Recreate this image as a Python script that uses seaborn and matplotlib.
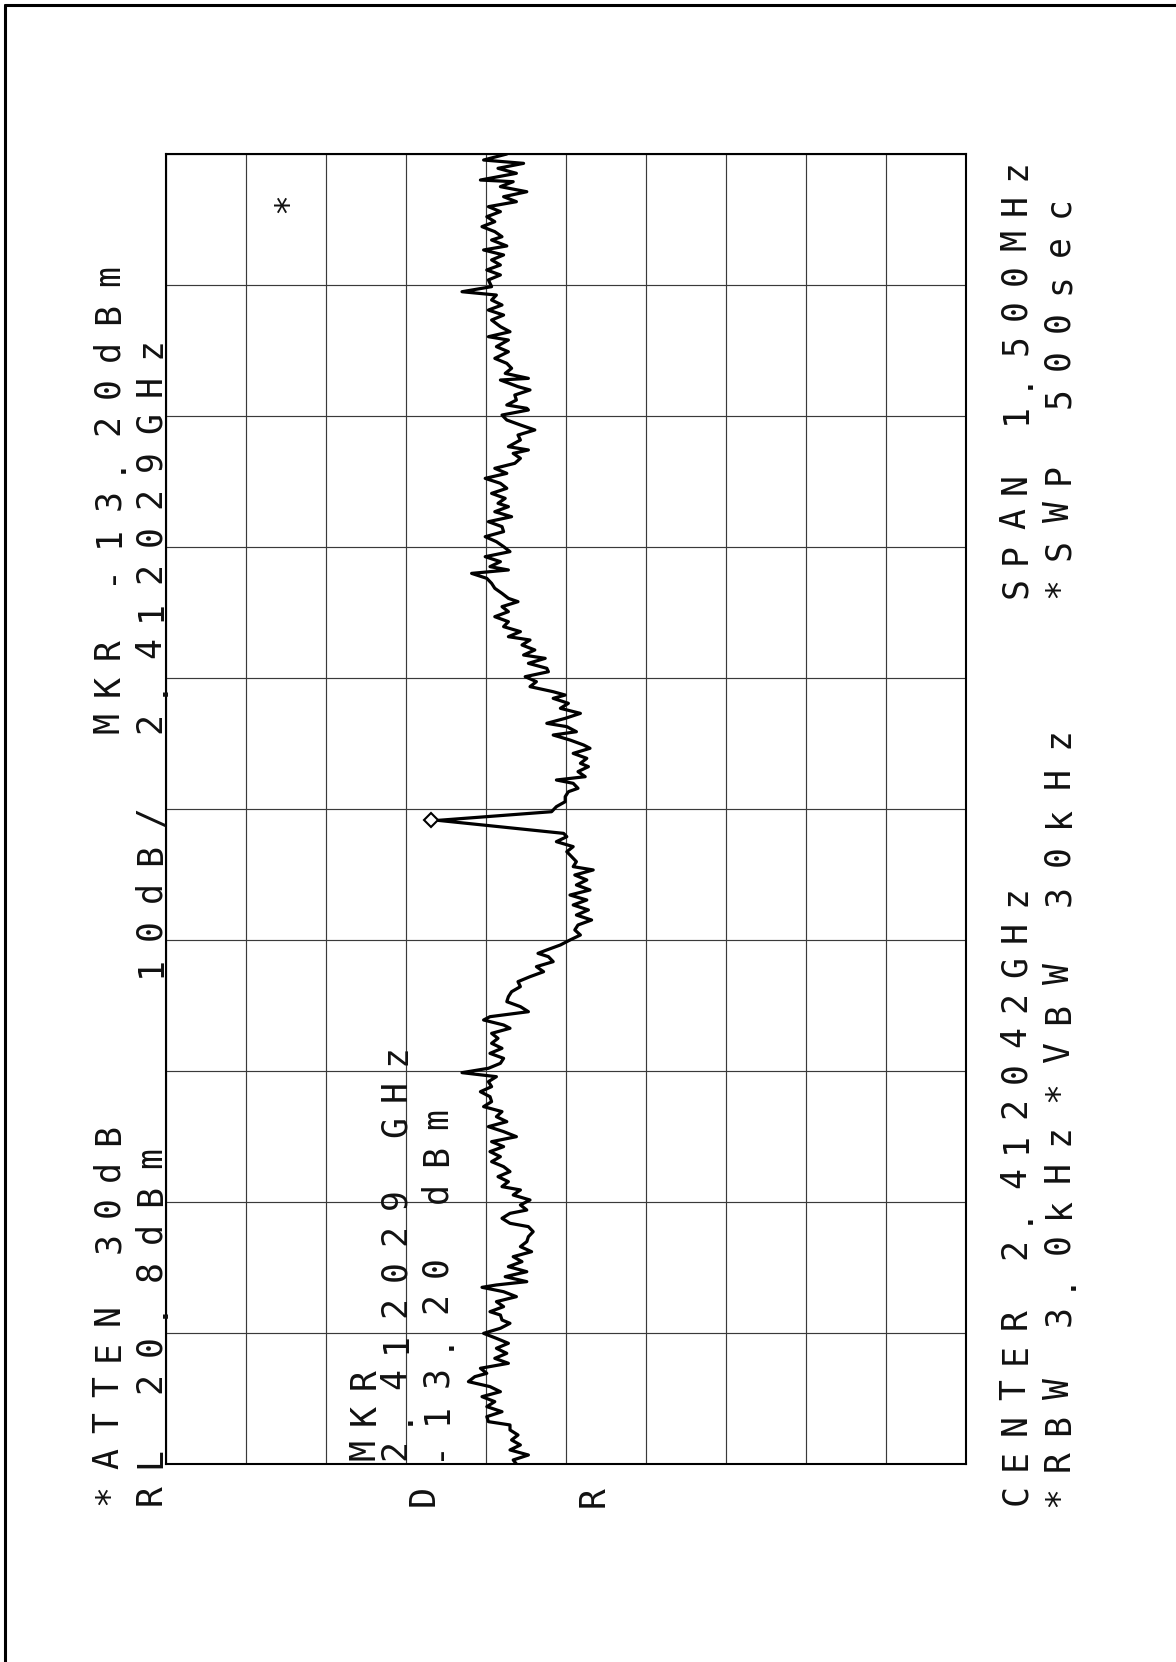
import matplotlib
matplotlib.use("Agg")

import numpy as np
import matplotlib.pyplot as plt
from matplotlib.lines import Line2D
import seaborn as sns

# ======================================================
# SWEEP SETTINGS (as printed on the plot)
# ======================================================

CENTER_GHZ = 2.412042
SPAN_KHZ = 1500
REF_LEVEL_DBM = 20.8
DB_PER_DIV = 10

# ======================================================
# TRACE, read off the plot from the top (high freq) down
# offset from centre in kHz, level in dBm
# ======================================================

freq_khz = [
    750.0, 743.1, 739.3, 733.6, 727.9, 720.2, 718.3, 712.6, 706.8, 701.1,
    695.4, 689.7, 684.0, 678.2, 672.5, 666.8, 661.1, 655.3, 651.5, 644.7,
    640.1, 634.4, 628.7, 622.9, 617.2, 611.5, 605.8, 598.1, 592.3, 588.5,
    582.8, 577.1, 571.3, 565.6, 559.9, 552.3, 546.5, 540.8, 537.0, 529.4,
    523.6, 516.0, 510.3, 504.6, 498.8, 493.1, 491.2, 483.6, 479.8, 474.0,
    468.3, 462.6, 458.8,
    456.9, 451.1, 445.4, 439.7, 434.0, 428.2, 422.5, 414.9, 411.1, 407.2,
    401.5, 395.8, 390.1, 384.3, 378.6, 372.9, 367.2, 361.4, 355.7, 350.0,
    346.2, 340.4, 334.7, 329.0, 323.3, 317.6, 311.8, 306.1, 300.4, 294.7,
    288.9, 283.2, 277.5, 273.7, 269.8, 264.1, 258.4, 252.7, 246.9, 241.2,
    237.4, 231.7, 226.0, 220.2, 214.5, 208.8, 203.1, 197.3, 193.5, 187.8,
    182.1, 176.3, 172.5, 166.8, 161.1,
    157.2, 151.5, 145.8, 140.1, 134.3, 130.5, 126.7, 121.0, 115.3, 109.5,
    103.8, 98.1, 94.3, 88.5, 84.7, 79.0, 73.3, 69.5, 63.7, 58.0,
    52.3, 48.5, 42.8, 37.0, 33.2, 29.4, 23.7, 19.8, 14.1, 8.4,
    2.7, -3.1, -13.0, -27.9, -31.7, -37.4, -43.1, -48.9, -54.6, -60.3,
    -66.0, -69.8, -75.6, -81.3, -87.0, -92.7, -98.5, -104.2, -109.9, -115.6,
    -121.4, -127.1, -132.8,
    -138.5, -144.3, -150.0, -155.7, -161.4, -165.3, -169.1, -174.8, -180.5, -186.3,
    -192.0, -197.7, -203.4, -209.2, -214.9, -220.6, -226.3, -232.1, -237.8, -241.6,
    -247.3, -251.1, -256.9, -262.6, -268.3, -274.0, -279.8, -285.5, -291.2, -296.9,
    -301.9, -306.5, -312.2, -317.9, -323.7, -329.4, -335.1, -340.8, -346.5, -352.3,
    -358.0, -363.7, -369.4, -375.2, -380.9, -386.6, -392.3, -398.1, -403.8, -409.5,
    -415.2, -421.0, -426.7, -432.4,
    -436.2, -442.0, -447.7, -453.4, -459.2, -463.0, -468.7, -474.4, -478.2, -484.0,
    -489.7, -495.4, -501.1, -506.9, -512.6, -518.3, -524.0, -529.8, -535.5, -541.2,
    -545.0, -547.7, -552.7, -558.4, -564.1, -569.8, -575.6, -579.4, -585.1, -588.9,
    -594.6, -600.4, -606.1, -611.8, -617.5, -623.3, -629.0, -634.7, -640.4, -646.2,
    -650.0, -655.7, -661.4, -667.2, -672.9, -678.6, -684.3, -690.1, -695.8, -701.5,
    -705.3, -711.0, -716.8, -722.5, -728.2, -733.9, -739.7, -745.4, -750.0,
]

level_dbm = [
    -21.8, -18.9, -23.9, -20.7, -23.0, -18.5, -22.6, -21.0, -24.3, -21.4,
    -23.0, -19.5, -21.0, -19.3, -20.3, -18.7, -20.3, -21.2, -19.9, -21.8,
    -18.9, -21.4, -19.9, -21.0, -19.3, -21.0, -19.5, -19.9, -16.2, -20.5,
    -19.9, -21.2, -19.5, -21.4, -19.9, -21.0, -22.2, -19.5, -22.0, -20.5,
    -22.0, -20.3, -21.8, -22.4, -21.6, -24.5, -21.0, -23.2, -24.7, -22.8,
    -23.0, -21.8, -24.3,
    -24.5, -21.2, -21.8, -23.5, -25.3, -23.2, -23.5, -22.0, -24.5, -22.6,
    -23.5, -22.8, -20.3, -21.8, -19.1, -21.0, -21.8, -19.9, -21.6, -20.7,
    -22.0, -20.3, -22.4, -19.5, -21.2, -21.4, -19.1, -20.5, -21.4, -22.2,
    -19.1, -21.0, -19.7, -22.0, -17.4, -19.3, -19.9, -20.3, -21.2, -22.0,
    -23.2, -21.2, -22.0, -20.3, -22.0, -21.4, -23.5, -22.0, -24.7, -23.7,
    -25.3, -23.9, -26.6, -24.5, -26.8,
    -27.0, -24.1, -25.5, -24.7, -27.6, -29.1, -27.6, -29.5, -28.5, -31.0,
    -29.1, -26.8, -29.3, -30.5, -27.6, -29.7, -31.4, -32.2, -30.1, -31.8,
    -31.0, -32.0, -30.7, -31.6, -28.0, -30.1, -30.7, -29.5, -29.1, -29.1,
    -28.0, -27.4, -13.2, -28.9, -29.3, -28.0, -30.1, -29.3, -29.9, -30.5,
    -30.1, -32.6, -30.3, -31.8, -30.5, -32.2, -29.7, -31.8, -30.1, -32.0,
    -30.5, -32.4, -30.7,
    -30.3, -31.0, -29.7, -28.5, -26.8, -25.7, -27.0, -27.6, -25.5, -26.4,
    -24.7, -23.2, -23.5, -22.4, -22.0, -21.8, -23.5, -24.5, -19.7, -18.9,
    -21.4, -22.2, -19.9, -20.7, -19.9, -21.2, -19.7, -21.4, -21.0, -19.5,
    -16.2, -20.5, -19.5, -19.9, -18.5, -19.7, -19.9, -18.9, -21.2, -20.5,
    -21.8, -19.5, -21.4, -23.0, -19.9, -21.4, -19.7, -21.0, -19.9, -21.4,
    -22.2, -20.7, -22.0, -21.2,
    -23.5, -22.6, -24.7, -23.5, -24.3, -22.2, -21.2, -22.2, -24.5, -25.1,
    -24.5, -24.3, -23.5, -24.9, -22.6, -23.7, -22.0, -24.3, -21.6, -24.3,
    -20.5, -18.7, -21.4, -23.0, -20.5, -21.4, -19.7, -21.0, -21.2, -22.2,
    -21.0, -18.9, -20.5, -22.0, -20.5, -21.8, -20.3, -22.0, -18.5, -19.3,
    -17.8, -17.0, -19.7, -21.0, -18.7, -20.3, -19.3, -21.2, -19.3, -19.5,
    -22.2, -22.2, -23.2, -22.4, -23.5, -22.2, -24.5, -22.6, -23.0,
]

# marker diamond, drawn just left of the peak
marker_khz = -13.0
marker_dbm = -12.3

# ======================================================
# PLOTTER ANNOTATIONS
# text, column centre x, centre of first char y, centre of last char y (px)
# ======================================================

annotations = [
    ("*ATTEN 30dB", 106, 1495, 1135),
    ("RL 20.8dBm", 148, 1495, 1158),
    ("10dB/", 148, 967, 817),
    ("MKR -13.20dBm", 106, 723, 276),
    ("2.412029GHz", 148, 723, 348),
    ("MKR", 362, 1450, 1379),
    ("2.412029 GHz", 393, 1450, 1055),
    ("-13.20 dBm", 434, 1450, 1119),
    ("CENTER 2.412042GHz", 1013, 1495, 896),
    ("*RBW 3.0kHz", 1056, 1497, 1135),
    ("*VBW 30kHz", 1056, 1092, 738),
    ("SPAN 1.500MHz", 1013, 588, 170),
    ("*SWP 500sec", 1056, 588, 207),
    ("*", 285, 203, 203),
    ("D", 421, 1496, 1496),
    ("R", 591, 1497, 1497),
]

# ======================================================
# CONFIGURATION
# ======================================================

W, H = 1176, 1662
FONT_SIZE = 25

sns.set_theme(style="white")
plt.rcParams["font.family"] = ["DejaVu Sans Mono", "DejaVu Sans"]


def plotter_text(fig, s, x, y_first, y_last):
    # HP plotter lettering runs bottom to top with wide spacing,
    # so every character gets its own slot
    cap = 0.73 * FONT_SIZE * 100 / 72
    step = (y_first - y_last) / max(len(s) - 1, 1)
    for i, ch in enumerate(s):
        if ch == " ":
            continue
        cy = y_first - step * i
        fig.text(
            (x + cap / 2) / W,
            1 - cy / H,
            ch,
            rotation=90,
            rotation_mode="anchor",
            ha="center",
            va="baseline",
            fontsize=FONT_SIZE,
            color="#111111",
        )


# ======================================================
# FIGURE
# ======================================================

fig = plt.figure(figsize=(W / 100, H / 100), dpi=100)
fig.patch.set_facecolor("white")

ax = fig.add_axes([166 / W, 1 - 1464 / H, 800 / W, 1310 / H])

sns.lineplot(
    x=level_dbm,
    y=freq_khz,
    sort=False,
    estimator=None,
    color="black",
    linewidth=2.3,
    ax=ax,
)

ax.plot(
    [marker_dbm], [marker_khz],
    marker="D", markersize=7.5,
    markerfacecolor="white", markeredgecolor="black",
    markeredgewidth=1.5, zorder=4,
)

bottom_dbm = REF_LEVEL_DBM - 10 * DB_PER_DIV
ax.set_xlim(REF_LEVEL_DBM, bottom_dbm)
ax.set_ylim(-SPAN_KHZ / 2, SPAN_KHZ / 2)

ax.set_xticks(np.linspace(REF_LEVEL_DBM, bottom_dbm, 11))
ax.set_yticks(np.linspace(-SPAN_KHZ / 2, SPAN_KHZ / 2, 11))
ax.grid(True, color="#3a3a3a", linewidth=0.85)
ax.tick_params(length=0, labelbottom=False, labelleft=False)
ax.set_xlabel("")
ax.set_ylabel("")
ax.set_facecolor("white")

for spine in ax.spines.values():
    spine.set_color("black")
    spine.set_linewidth(1.5)

for text, x, y0, y1 in annotations:
    plotter_text(fig, text, x, y0, y1)

# page frame of the scan (top and left edges)
fig.add_artist(Line2D([5 / W, 5 / W], [0, 1 - 5 / H], color="black", linewidth=2.2))
fig.add_artist(Line2D([5 / W, 1], [1 - 5 / H, 1 - 5 / H], color="black", linewidth=2.2))

fig.savefig("out.png", dpi=100)
plt.close(fig)
